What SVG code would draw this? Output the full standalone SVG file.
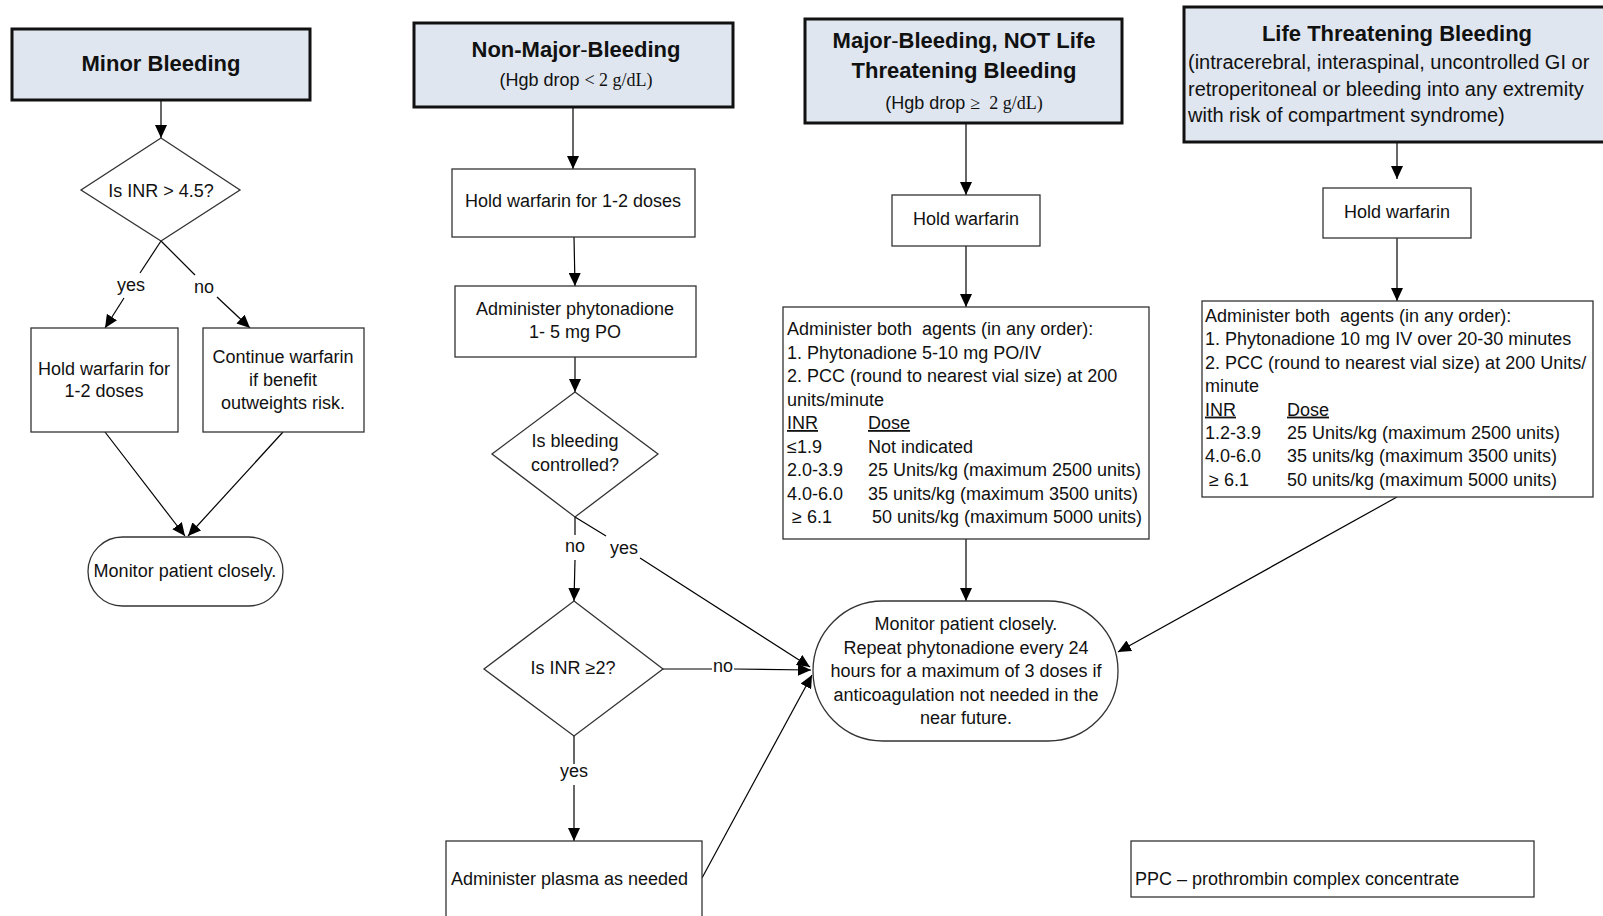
<svg xmlns="http://www.w3.org/2000/svg" width="1603" height="916" viewBox="0 0 1603 916">
<style>
.hdr{fill:#dfe6f0;stroke:#111;stroke-width:3}
.box{fill:#fff;stroke:#333;stroke-width:1.3}
.ln{stroke:#000;stroke-width:1.2;fill:none}
.ar{marker-end:url(#ah)}
text{font-family:"Liberation Sans",Arial,sans-serif;font-size:18px;fill:#111}
.c{text-anchor:middle}
.b{font-weight:bold;font-size:22px}
.nb{font-weight:normal}
.s{font-family:"Liberation Serif","Times New Roman",serif}
.d{font-size:20px}
.pre{white-space:pre}
.u{text-decoration:underline}
</style>
<defs>
<marker id="ah" viewBox="0 0 13 12" refX="13" refY="6" markerWidth="13" markerHeight="12" orient="auto" markerUnits="userSpaceOnUse">
<path d="M0,0 L13,6 L0,12 z" fill="#000"/>
</marker>
</defs>
<rect width="1603" height="916" fill="#fff"/>

<g id="connectors">
<line class="ln ar" x1="161" y1="100" x2="161" y2="138"/>
<line class="ln" x1="161" y1="241" x2="140" y2="273"/>
<line class="ln ar" x1="124" y1="298" x2="105" y2="328"/>
<line class="ln" x1="161" y1="241" x2="195" y2="275"/>
<line class="ln ar" x1="217" y1="297" x2="250" y2="328"/>
<line class="ln ar" x1="105" y1="432" x2="185" y2="536"/>
<line class="ln ar" x1="283" y1="432" x2="188" y2="536"/>
<line class="ln ar" x1="573" y1="107" x2="573" y2="169"/>
<line class="ln ar" x1="574" y1="237" x2="575" y2="286"/>
<line class="ln ar" x1="575" y1="357" x2="575" y2="392"/>
<line class="ln" x1="575" y1="517" x2="575" y2="535"/>
<line class="ln ar" x1="575" y1="560" x2="574" y2="601"/>
<line class="ln" x1="575" y1="517" x2="606" y2="536"/>
<line class="ln ar" x1="640" y1="558" x2="810" y2="667"/>
<line class="ln" x1="663" y1="669" x2="712" y2="669"/>
<line class="ln ar" x1="734" y1="669" x2="811" y2="670"/>
<line class="ln" x1="574" y1="736" x2="574" y2="764"/>
<line class="ln ar" x1="574" y1="785" x2="574" y2="841"/>
<line class="ln ar" x1="702" y1="878" x2="812" y2="675"/>
<line class="ln ar" x1="966" y1="123" x2="966" y2="195"/>
<line class="ln ar" x1="966" y1="246" x2="966" y2="307"/>
<line class="ln ar" x1="966" y1="539" x2="966" y2="601"/>
<line class="ln ar" x1="1397" y1="142" x2="1397" y2="179"/>
<line class="ln ar" x1="1397" y1="238" x2="1397" y2="301"/>
<line class="ln ar" x1="1397" y1="497" x2="1118" y2="652"/>
<text x="131" y="291" class="c">yes</text>
<text x="204" y="293" class="c">no</text>
<text x="575" y="552" class="c">no</text>
<text x="624" y="554" class="c">yes</text>
<text x="723" y="672" class="c">no</text>
<text x="574" y="777" class="c">yes</text>
</g>

<g id="minor-header">
<rect class="hdr" x="12" y="29" width="298" height="71"/>
<text x="161" y="71" class="c b">Minor Bleeding</text>
</g>
<g id="minor-inr">
<polygon class="box" points="161,138 240,190 161,241 81,190"/>
<text x="161" y="197" class="c">Is INR &gt; 4.5?</text>
</g>
<g id="minor-hold">
<rect class="box" x="31" y="328" width="147" height="104"/>
<text x="104" y="375" class="c">Hold warfarin for</text>
<text x="104" y="397" class="c">1-2 doses</text>
</g>
<g id="minor-continue">
<rect class="box" x="203" y="328" width="161" height="104"/>
<text x="283" y="363" class="c">Continue warfarin</text>
<text x="283" y="386" class="c">if benefit</text>
<text x="283" y="409" class="c">outweights risk.</text>
</g>
<g id="minor-monitor">
<rect class="box" x="88" y="537" width="195" height="69" rx="34.5"/>
<text x="185" y="577" class="c">Monitor patient closely.</text>
</g>

<g id="nonmajor-header">
<rect class="hdr" x="414" y="23" width="319" height="84"/>
<text x="576" y="57" class="c b">Non-Major<tspan class="nb">-</tspan>Bleeding</text>
<text x="576" y="86" class="c">(Hgb drop <tspan class="s">&lt; 2 g/dL)</tspan></text>
</g>
<g id="nonmajor-hold">
<rect class="box" x="452" y="169" width="243" height="68"/>
<text x="573" y="207" class="c">Hold warfarin for 1-2 doses</text>
</g>
<g id="nonmajor-phyto">
<rect class="box" x="455" y="286" width="241" height="71"/>
<text x="575" y="315" class="c">Administer phytonadione</text>
<text x="575" y="338" class="c">1- 5 mg PO</text>
</g>
<g id="nonmajor-controlled">
<polygon class="box" points="575,392 658,454 575,517 492,454"/>
<text x="575" y="447" class="c">Is bleeding</text>
<text x="575" y="471" class="c">controlled?</text>
</g>
<g id="nonmajor-inr">
<polygon class="box" points="574,601 663,669 574,736 484,669"/>
<text x="573" y="674" class="c">Is INR ≥2?</text>
</g>
<g id="nonmajor-plasma">
<rect class="box" x="446" y="841" width="256" height="85"/>
<text x="451" y="885">Administer plasma as needed</text>
</g>

<g id="major-header">
<rect class="hdr" x="805" y="19" width="317" height="104"/>
<text x="964" y="48" class="c b">Major<tspan class="nb">-</tspan>Bleeding, NOT Life</text>
<text x="964" y="78" class="c b">Threatening Bleeding</text>
<text x="964" y="109" class="c pre">(Hgb drop <tspan class="s">≥  2 g/dL)</tspan></text>
</g>
<g id="major-hold">
<rect class="box" x="892" y="195" width="148" height="51"/>
<text x="966" y="225" class="c">Hold warfarin</text>
</g>
<g id="major-admin">
<rect class="box" x="783" y="307" width="366" height="232"/>
<text x="787" y="335" class="pre">Administer both  agents (in any order):</text>
<text x="787" y="358.5">1. Phytonadione 5-10 mg PO/IV</text>
<text x="787" y="382">2. PCC (round to nearest vial size) at 200</text>
<text x="787" y="405.5">units/minute</text>
<text x="787" y="429" class="u">INR</text>
<text x="868" y="429" class="u">Dose</text>
<text x="787" y="452.5">≤1.9</text>
<text x="868" y="452.5">Not indicated</text>
<text x="787" y="476">2.0-3.9</text>
<text x="868" y="476">25 Units/kg (maximum 2500 units)</text>
<text x="787" y="499.5">4.0-6.0</text>
<text x="868" y="499.5">35 units/kg (maximum 3500 units)</text>
<text x="792" y="523">≥ 6.1</text>
<text x="872" y="523">50 units/kg (maximum 5000 units)</text>
</g>
<g id="monitor-main">
<rect class="box" x="813" y="601" width="305" height="140" rx="70"/>
<text x="966" y="630" class="c">Monitor patient closely.</text>
<text x="966" y="653.5" class="c">Repeat phytonadione every 24</text>
<text x="966" y="677" class="c">hours for a maximum of 3 doses if</text>
<text x="966" y="700.5" class="c">anticoagulation not needed in the</text>
<text x="966" y="724" class="c">near future.</text>
</g>

<g id="life-header">
<rect class="hdr" x="1184" y="7" width="422" height="135"/>
<text x="1397" y="41" class="c b">Life Threatening Bleeding</text>
<text x="1188" y="69" class="d">(intracerebral, interaspinal, uncontrolled GI or</text>
<text x="1188" y="96" class="d">retroperitoneal or bleeding into any extremity</text>
<text x="1188" y="122" class="d">with risk of compartment syndrome)</text>
</g>
<g id="life-hold">
<rect class="box" x="1323" y="188" width="148" height="50"/>
<text x="1397" y="218" class="c">Hold warfarin</text>
</g>
<g id="life-admin">
<rect class="box" x="1202" y="301" width="391" height="196"/>
<text x="1205" y="322" class="pre">Administer both  agents (in any order):</text>
<text x="1205" y="345.4">1. Phytonadione 10 mg IV over 20-30 minutes</text>
<text x="1205" y="368.8">2. PCC (round to nearest vial size) at 200 Units/</text>
<text x="1205" y="392.2">minute</text>
<text x="1205" y="415.6" class="u">INR</text>
<text x="1287" y="415.6" class="u">Dose</text>
<text x="1205" y="439">1.2-3.9</text>
<text x="1287" y="439">25 Units/kg (maximum 2500 units)</text>
<text x="1205" y="462.4">4.0-6.0</text>
<text x="1287" y="462.4">35 units/kg (maximum 3500 units)</text>
<text x="1209" y="485.8">≥ 6.1</text>
<text x="1287" y="485.8">50 units/kg (maximum 5000 units)</text>
</g>

<g id="legend">
<rect class="box" x="1131" y="841" width="403" height="56"/>
<text x="1135" y="885">PPC – prothrombin complex concentrate</text>
</g>
</svg>
